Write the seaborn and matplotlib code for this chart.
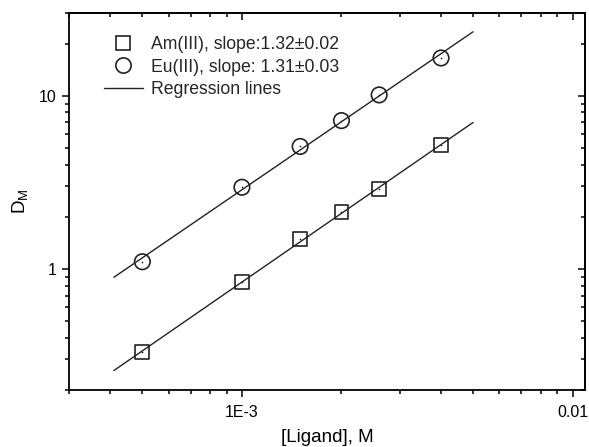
import numpy as np
import pandas as pd
import matplotlib
matplotlib.use("Agg")
import matplotlib.pyplot as plt
import seaborn as sns
from matplotlib.ticker import FixedLocator, LogLocator, NullFormatter, FixedFormatter
from matplotlib.lines import Line2D

# ---- data ----
ligand = [5e-4, 1e-3, 1.5e-3, 2e-3, 2.6e-3, 4e-3]
d_am = [0.33, 0.84, 1.49, 2.13, 2.88, 5.16]
d_eu = [1.10, 2.96, 5.09, 7.18, 10.1, 16.5]
series_names = ["Am(III), slope:1.32\u00b10.02", "Eu(III), slope: 1.31\u00b10.03"]
line_name = "Regression lines"
fit_range = [4.1e-4, 5e-3]
x_ticks = [1e-3, 1e-2]
x_tick_labels = ["1E-3", "0.01"]
y_ticks = [1, 10]
y_tick_labels = ["1", "10"]

sns.set_theme(style="ticks")
plt.rcParams['font.family'] = ['Liberation Sans', 'DejaVu Sans']
plt.rcParams['mathtext.fontset'] = 'custom'
plt.rcParams['mathtext.rm'] = 'Liberation Sans'

W, H = 589, 447
fig = plt.figure(figsize=(W / 100, H / 100), dpi=100)
ax = fig.add_axes([69 / W, 1 - 390 / H, (585 - 69) / W, (390 - 13) / H])
ax.set_xscale('log')
ax.set_yscale('log')

ink = '#222222'
# regression lines (fitted in log-log space)
for yv in (d_am, d_eu):
    coef = np.polyfit(np.log10(ligand), np.log10(yv), 1)
    xs = np.array(fit_range)
    ys = 10 ** np.polyval(coef, np.log10(xs))
    sns.lineplot(x=xs, y=ys, ax=ax, color=ink, lw=1.0, zorder=2)

df = pd.DataFrame({'x': ligand, 'am': d_am, 'eu': d_eu})
sns.scatterplot(data=df, x='x', y='am', ax=ax, marker='s', s=100,
                facecolor='none', edgecolor=ink, linewidth=1.2, zorder=3)
sns.scatterplot(data=df, x='x', y='eu', ax=ax, marker='o', s=125,
                facecolor='none', edgecolor=ink, linewidth=1.2, zorder=3)
for col in ('am', 'eu'):
    sns.scatterplot(data=df, x='x', y=col, ax=ax, marker='o', s=1.5,
                    color=ink, linewidth=0, zorder=4)

ax.set_xlim(3e-4, 0.0109)
ax.set_ylim(0.2, 30)

minor_subs = np.arange(2, 10)
ax.xaxis.set_major_locator(FixedLocator(x_ticks))
ax.xaxis.set_major_formatter(FixedFormatter(x_tick_labels))
ax.xaxis.set_minor_locator(LogLocator(base=10, subs=minor_subs))
ax.xaxis.set_minor_formatter(NullFormatter())
ax.yaxis.set_major_locator(FixedLocator(y_ticks))
ax.yaxis.set_major_formatter(FixedFormatter(y_tick_labels))
ax.yaxis.set_minor_locator(LogLocator(base=10, subs=minor_subs))
ax.yaxis.set_minor_formatter(NullFormatter())

ax.tick_params(which='major', direction='out', length=5, width=1.1, color='black',
               labelsize=11.5, labelcolor='black', pad=4)
ax.tick_params(axis='x', which='major', pad=6)
ax.tick_params(which='minor', direction='out', length=3, width=1.1, color='black')
for s in ax.spines.values():
    s.set_linewidth(1.3)
    s.set_color('black')
    s.set_visible(True)

# mirrored inward ticks on top and right
top = ax.secondary_xaxis('top')
top.set_xscale('log')
top.xaxis.set_major_locator(FixedLocator(x_ticks))
top.xaxis.set_minor_locator(LogLocator(base=10, subs=minor_subs))
top.xaxis.set_major_formatter(NullFormatter())
top.xaxis.set_minor_formatter(NullFormatter())
top.tick_params(which='major', direction='in', length=5, width=1.1, color='black')
top.tick_params(which='minor', direction='in', length=3, width=1.1, color='black')
top.spines['top'].set_linewidth(1.3)

right = ax.secondary_yaxis('right')
right.set_yscale('log')
right.yaxis.set_major_locator(FixedLocator(y_ticks))
right.yaxis.set_minor_locator(LogLocator(base=10, subs=minor_subs))
right.yaxis.set_major_formatter(NullFormatter())
right.yaxis.set_minor_formatter(NullFormatter())
right.tick_params(which='major', direction='in', length=5, width=1.1, color='black')
right.tick_params(which='minor', direction='in', length=3, width=1.1, color='black')
right.spines['right'].set_linewidth(1.3)

ax.set_xlabel('[Ligand], M', fontsize=13.5, color='black', labelpad=6)
ax.set_ylabel(r'$\mathregular{D_M}$', fontsize=13.5, color='black', labelpad=6)

handles = [
    Line2D([], [], ls='none', marker='s', ms=10, mfc='none', mec=ink, mew=1.2),
    Line2D([], [], ls='none', marker='o', ms=11, mfc='none', mec=ink, mew=1.2),
    Line2D([], [], color=ink, lw=1.0),
]
ax.legend(handles, series_names + [line_name], loc='upper left',
          bbox_to_anchor=(104 / W, 1 - 36 / H), bbox_transform=fig.transFigure,
          frameon=False, fontsize=12.7, borderpad=0, borderaxespad=0,
          handlelength=2.2, handletextpad=0.45, labelspacing=0.32)

fig.savefig('out.png', dpi=100)
